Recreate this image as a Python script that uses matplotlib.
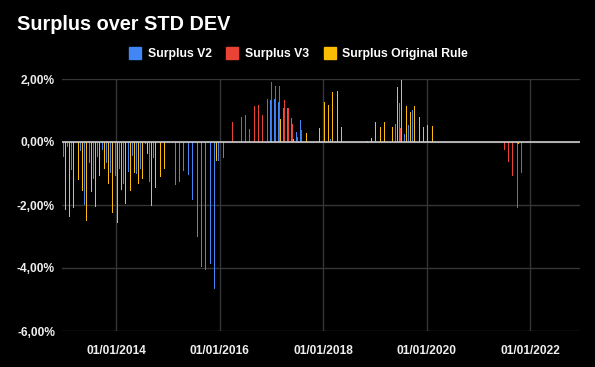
import matplotlib
matplotlib.use("Agg")
import matplotlib.pyplot as plt
import matplotlib.dates as mdates
from matplotlib.lines import Line2D
from matplotlib.ticker import FuncFormatter
from datetime import datetime, timedelta

# ---------------- data (monthly, % values) ----------------
v2_months = ["2013-01", "2013-02", "2013-03", "2013-05", "2013-06", "2013-07", "2013-08",
             "2013-09", "2013-10", "2013-11", "2013-12", "2014-01", "2014-02", "2014-03",
             "2014-04", "2014-05", "2014-06", "2014-07", "2014-08", "2014-09", "2014-10",
             "2015-03", "2015-04", "2015-05", "2015-06", "2015-07", "2015-08", "2015-09",
             "2015-10", "2015-11", "2015-12", "2016-01", "2016-02", "2017-01", "2017-02",
             "2017-03", "2017-04", "2017-05", "2017-06", "2017-07", "2017-08", "2018-03",
             "2018-04", "2019-06", "2019-07", "2019-08", "2019-09", "2019-10", "2020-05"]
v2_values = [-0.47, -0.15, -0.88, -0.28, -1.99, -0.66, -1.16,
             -0.47, -0.24, -0.66, -0.97, -1.07, -0.85, -1.32,
             -0.94, -0.43, -1.01, -0.85, -0.05, -1.26, -0.50,
             -1.35, -1.26, -0.91, -1.04, -1.83, -3.01, -3.96,
             -4.05, -3.86, -4.66, -0.59, -0.50, 1.34, 1.37,
             1.27, 1.08, 1.08, 0.77, 0.33, 0.71, 0.11,
             0.04, 0.58, 1.24, 0.26, 0.55, 1.02, 0.04]

v3_months = ["2016-04", "2016-06", "2016-07", "2016-08", "2016-09", "2016-10", "2016-11",
             "2016-12", "2017-01", "2017-02", "2017-03", "2017-04", "2017-05", "2017-06",
             "2017-07", "2017-08", "2019-07", "2019-10", "2021-07", "2021-08", "2021-09",
             "2021-10", "2021-11"]
v3_values = [0.64, 0.80, 0.86, 0.42, 1.15, 1.18, 0.86,
             1.37, 1.91, 1.78, 1.78, 1.34, 1.08, 0.58,
             0.17, 0.39, 0.45, 0.04, -0.26, -0.64, -1.09,
             -2.11, -0.99]

orig_months = ["2013-01", "2013-02", "2013-03", "2013-04", "2013-05", "2013-06", "2013-07",
               "2013-08", "2013-09", "2013-10", "2013-11", "2013-12", "2014-01", "2014-02",
               "2014-03", "2014-04", "2014-05", "2014-06", "2014-07", "2014-08", "2014-09",
               "2014-10", "2014-11", "2014-12", "2015-12", "2017-03", "2017-06", "2017-09",
               "2017-12", "2018-01", "2018-02", "2018-03", "2018-04", "2018-05", "2018-11",
               "2018-12", "2019-01", "2019-02", "2019-03", "2019-05", "2019-06", "2019-07",
               "2019-08", "2019-09", "2019-10", "2019-11", "2019-12", "2020-01", "2020-02",
               "2021-10"]
orig_values = [-2.17, -2.37, -2.08, -1.20, -1.54, -2.50, -1.58,
               -2.05, -1.07, -0.85, -1.32, -2.24, -2.56, -1.51,
               -1.96, -1.54, -0.97, -1.32, -1.16, -0.37, -2.02,
               -1.45, -1.10, -0.85, -0.59, 0.74, 0.11, 0.29,
               0.45, 1.27, 1.18, 1.59, 1.62, 0.48, 0.04,
               0.14, 0.64, 0.48, 0.64, 0.48, 1.75, 1.97,
               1.15, 0.96, 1.15, 0.80, 0.48, 0.55, 0.52,
               -0.07]

series_names = ["Surplus V2", "Surplus V3", "Surplus Original Rule"]
series_colors = ["#4285F4", "#EA4335", "#FBBC04"]
tick_years = [2014, 2016, 2018, 2020, 2022]
y_ticks = [2, 0, -2, -4, -6]

# ---------------- figure ----------------
W, H = 595, 367
fig = plt.figure(figsize=(W / 100, H / 100), dpi=100, facecolor="black")
ax = fig.add_axes([62 / W, 1 - 331 / H, (580 - 62) / W, (331 - 79) / H])
ax.set_facecolor("black")

font = "Liberation Sans"

def to_num(m):
    return mdates.date2num(datetime.strptime(m + "-01", "%Y-%m-%d"))

px_days = (365.25 * 8) / (530.3 - 116.3)  # days per pixel
offsets = [-px_days, 0.0, px_days]
bar_w = px_days * 1.0

for months, vals, off, col in zip([v2_months, v3_months, orig_months],
                                  [v2_values, v3_values, orig_values],
                                  offsets, series_colors):
    xs = [to_num(m) + off for m in months]
    ax.bar(xs, vals, width=bar_w, color=col, linewidth=0, zorder=3, antialiased=False)

ax.set_ylim(-6, 2)
ax.set_xlim(mdates.date2num(datetime(2012, 12, 14)), mdates.date2num(datetime(2022, 12, 18)))

ax.set_yticks(y_ticks)
ax.yaxis.set_major_formatter(FuncFormatter(lambda v, p: ("%.2f" % v).replace(".", ",") + "%"))
ax.set_xticks([mdates.date2num(datetime(y, 1, 1)) for y in tick_years])
ax.set_xticklabels(["01/01/%d" % y for y in tick_years])

ax.grid(True, color="#363636", linewidth=1, zorder=0)
ax.axhline(0, color="#cccccc", linewidth=1.2, zorder=4)
for s in ax.spines.values():
    s.set_visible(False)
ax.tick_params(axis="both", length=0, colors="#eeeeee")
ax.tick_params(axis="y", pad=5)
ax.tick_params(axis="x", pad=10)
for lab in ax.get_xticklabels() + ax.get_yticklabels():
    lab.set_fontfamily(font)
    lab.set_fontweight("bold")
    lab.set_fontsize(8.6)
    lab.set_color("#eeeeee")

fig.text(17 / W, 1 - 25 / H, "Surplus over STD DEV", color="white", fontsize=14.3,
         fontweight="bold", fontfamily=font, va="center", ha="left")

handles = [Line2D([], [], marker="s", linestyle="none", markersize=9,
                  markerfacecolor=c, markeredgecolor=c) for c in series_colors]
leg = fig.legend(handles, series_names, loc="center", bbox_to_anchor=(299 / W, 1 - 54 / H),
                 ncol=3, frameon=False, handlelength=0.8, handletextpad=0.6,
                 columnspacing=1.3, prop={"family": font, "weight": "bold", "size": 8.8})
for t in leg.get_texts():
    t.set_color("white")

fig.savefig("out.png", dpi=100, facecolor="black")
